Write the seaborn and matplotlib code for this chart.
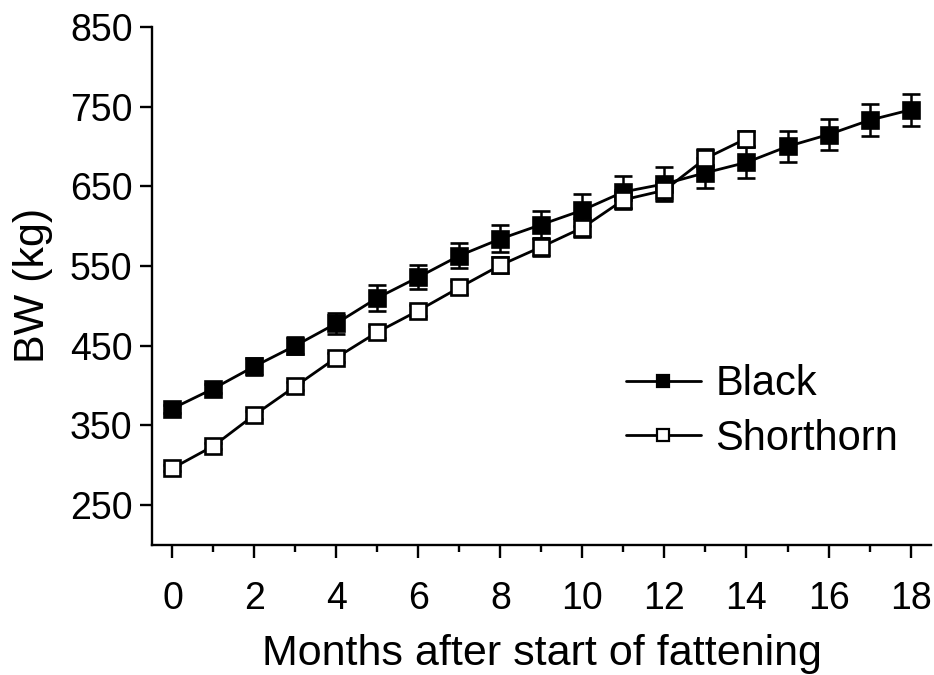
import numpy as np
import pandas as pd
import matplotlib
matplotlib.use("Agg")
import matplotlib.pyplot as plt
import seaborn as sns
from matplotlib.ticker import MultipleLocator

# Body weight during fattening, mean ± SE per breed
months_black = list(range(0, 19))
bw_black = [371, 396, 424, 450, 478, 510, 536, 563, 584, 602, 620, 643, 653,
            667, 680, 700, 715, 733, 746]
se_black = [5, 6, 11, 11, 13, 16, 15, 16, 17, 17, 20, 20, 21, 19, 19, 20, 20, 20, 20]

months_short = list(range(0, 15))
bw_short = [296, 324, 363, 399, 435, 467, 494, 523, 551, 574, 598, 633, 645, 685, 710]
se_short = [4, 4, 5, 5, 6, 7, 7, 8, 10, 11, 12, 12, 12, 12, 10]

breeds = ["Black", "Shorthorn"]

df = pd.concat([
    pd.DataFrame({"month": months_black, "bw": bw_black, "se": se_black, "breed": breeds[0]}),
    pd.DataFrame({"month": months_short, "bw": bw_short, "se": se_short, "breed": breeds[1]}),
], ignore_index=True)

sns.set_theme(style="ticks")
plt.rcParams["font.family"] = ["Liberation Sans", "DejaVu Sans"]
plt.rcParams["text.color"] = "black"
plt.rcParams["axes.labelcolor"] = "black"
plt.rcParams["xtick.color"] = "black"
plt.rcParams["ytick.color"] = "black"

fig = plt.figure(figsize=(9.34, 6.75), dpi=100)
ax = fig.add_axes([0.1627, 0.193, 0.8341, 0.767])

# error bars first, then lines and markers on top
for breed in breeds[::-1]:
    sub = df[df["breed"] == breed]
    ax.errorbar(sub["month"], sub["bw"], yerr=sub["se"], fmt="none",
                ecolor="black", elinewidth=1.8, capsize=6.5, capthick=2.0, zorder=2)

sns.lineplot(data=df, x="month", y="bw", hue="breed", style="breed",
             hue_order=breeds, style_order=breeds,
             palette={"Black": "black", "Shorthorn": "black"},
             markers={"Black": "s", "Shorthorn": "s"},
             dashes={"Black": "", "Shorthorn": ""},
             linewidth=2.0, markersize=11, ax=ax, legend=False, zorder=3)

# filled squares for Black, open squares for Shorthorn
lines = ax.get_lines()
for ln in lines:
    ln.set_markeredgewidth(1.9)
    ln.set_markeredgecolor("black")
black_line, short_line = lines[-2], lines[-1]
black_line.set_markerfacecolor("black")
short_line.set_markerfacecolor("white")

ax.set_xlim(-0.5, 18.5)
ax.set_ylim(200, 850)
ax.xaxis.set_major_locator(MultipleLocator(2))
ax.xaxis.set_minor_locator(MultipleLocator(1))
ax.set_yticks([250, 350, 450, 550, 650, 750, 850])

for side in ["top", "right"]:
    ax.spines[side].set_visible(False)
for side in ["left", "bottom"]:
    ax.spines[side].set_linewidth(1.7)
    ax.spines[side].set_color("black")

ax.tick_params(axis="both", which="major", direction="out", length=9, width=1.7,
               colors="black", labelsize=27)
ax.tick_params(axis="x", which="minor", direction="out", length=5, width=1.7,
               colors="black")
ax.tick_params(axis="x", which="major", pad=17)
ax.tick_params(axis="y", which="major", pad=5)

ax.set_xlabel("Months after start of fattening", fontsize=31, labelpad=12)
ax.set_ylabel("BW (kg)", fontsize=31, labelpad=12)

handles = [
    plt.Line2D([], [], color="black", linewidth=2.0, marker="s", markersize=8.5,
               markerfacecolor="black", markeredgecolor="black", markeredgewidth=1.6),
    plt.Line2D([], [], color="black", linewidth=2.0, marker="s", markersize=8.5,
               markerfacecolor="white", markeredgecolor="black", markeredgewidth=1.6),
]
ax.legend(handles, breeds, loc="center left", bbox_to_anchor=(0.608, 0.257),
          frameon=False, fontsize=30, handlelength=1.8, handletextpad=0.35,
          labelspacing=0.35, borderpad=0, borderaxespad=0)

fig.savefig("out.png", dpi=100, facecolor="white")
